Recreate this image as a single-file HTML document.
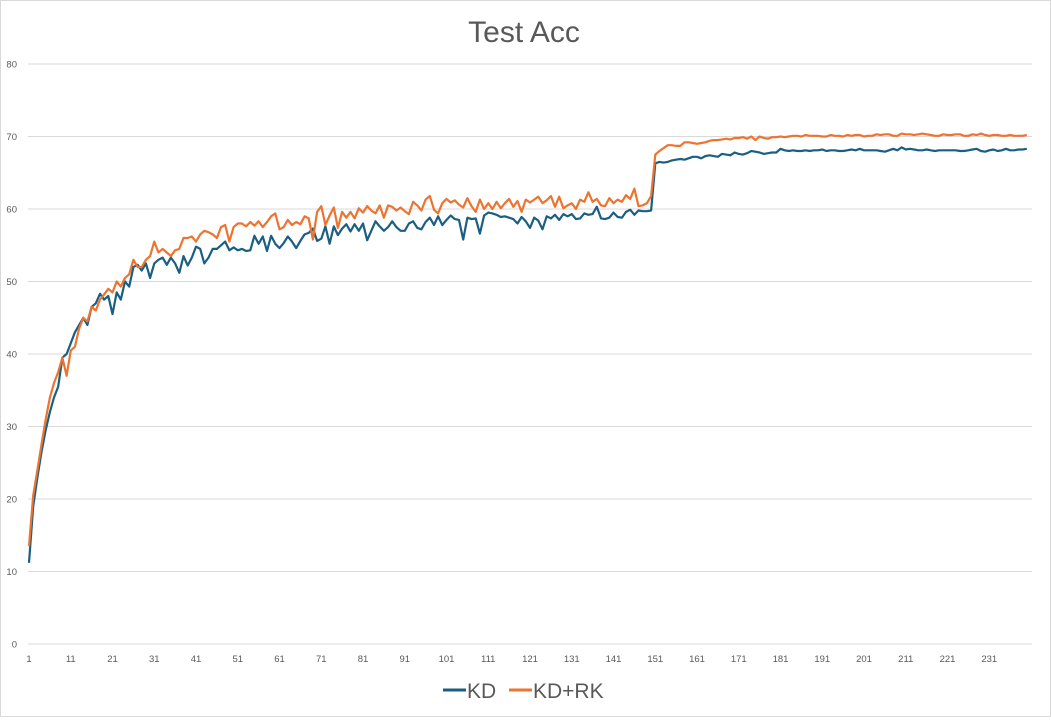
<!DOCTYPE html>
<html><head><meta charset="utf-8"><style>
body{margin:0;background:#fff;font-family:"Liberation Sans",sans-serif}
#wrap{position:relative;width:1051px;height:717px}
</style></head><body>
<div id="wrap">
<svg id="chart" width="1051" height="717" xmlns="http://www.w3.org/2000/svg">
<rect x="0.5" y="0.5" width="1050" height="716" fill="#fff" stroke="#d9d9d9"/>
<text x="524" y="42" text-anchor="middle" font-family="Liberation Sans, sans-serif" font-size="30" fill="#595959">Test Acc</text>
<g id="grid"></g><g id="ylab"></g><g id="xlab"></g><g id="series"></g>
<g>
<line x1="443" y1="690" x2="466" y2="690" stroke="#1a5f82" stroke-width="3"/>
<text x="467" y="698" font-size="21" fill="#595959">KD</text>
<line x1="509" y1="690" x2="532" y2="690" stroke="#ed7430" stroke-width="3"/>
<text x="533" y="698" font-size="21" fill="#595959">KD+RK</text>
</g>
</svg></div>
<script>
const yTicks=[0,10,20,30,40,50,60,70,80];
const xTickLabels=[1,11,21,31,41,51,61,71,81,91,101,111,121,131,141,151,161,171,181,191,201,211,221,231];
const kd=[11.2,19,23,26.5,29.5,32,34,35.5,39.5,40,
41.5,43,44,45,44,46.5,47,48.3,47.5,48,45.5,
48.5,47.5,50,49.3,52,52.3,51.5,52.5,50.5,52.5,53,
53.3,52.3,53.3,52.5,51.2,53.5,52.2,53.3,54.8,54.5,
52.5,53.3,54.5,54.5,55,55.5,54.3,54.7,54.3,54.5,
54.2,54.3,56.3,55.2,56.2,54.2,56.3,55.2,54.6,55.3,
56.2,55.5,54.6,55.6,56.5,56.7,57.3,55.6,55.9,57.6,
55.2,57.6,56.4,57.3,57.9,56.9,57.9,57,58,55.7,
57,58.3,57.6,57,57.5,58.3,57.5,57,57,58,
58.3,57.4,57.2,58.2,58.8,57.8,59,57.8,58.5,59.1,
58.6,58.5,55.8,58.8,58.6,58.7,56.6,59.1,
59.5,59.4,59.2,58.9,59,58.8,58.6,58,58.9,58.3,
57.4,58.8,58.4,57.2,59,58.7,59.2,58.5,59.3,59,
59.3,58.6,58.7,59.4,59.2,59.3,60.3,58.7,58.6,58.8,
59.5,58.9,58.8,59.6,59.9,59.2,59.8,59.7,59.7,59.8,
66.3,66.5,66.4,66.5,66.7,66.8,66.9,66.8,67.0,67.2,
67.2,67.0,67.3,67.4,67.3,67.2,67.6,67.5,67.4,67.8,
67.6,67.5,67.7,68.0,67.9,67.8,67.6,67.7,67.8,67.8,
68.3,68.1,68.0,68.1,68.0,68.0,68.1,68.0,68.1,68.1,
68.2,68.0,68.1,68.1,68.0,68.0,68.1,68.2,68.1,68.3,
68.1,68.1,68.1,68.1,68.0,67.9,68.1,68.3,68.1,68.5,
68.2,68.3,68.2,68.1,68.1,68.2,68.1,68.0,68.1,68.1,
68.1,68.1,68.1,68.0,68.0,68.1,68.2,68.3,68.0,67.9,
68.1,68.2,68.0,68.1,68.3,68.1,68.1,68.2,68.2,68.3];
const kdrk=[13.5,20.5,24,27.5,31,34,36,37.5,39.5,37,40.5,
41,43.5,45,44.5,46.5,46,47.5,48.2,49,48.5,50,
49.3,50.5,51,53,52,52,53,53.5,55.5,54,
54.5,54,53.5,54.3,54.5,56,56,56.2,55.5,56.5,
57,56.8,56.5,56,57.5,57.8,55.5,57.5,58,58,
57.6,58.2,57.7,58.3,57.5,58.2,59,59.4,57.2,57.5,
58.5,57.8,58.2,57.9,59,58.7,55.8,59.6,60.4,57.8,
59.1,60.2,57.4,59.6,58.8,59.6,58.7,60.1,59.5,60.4,
59.8,59.4,60.5,58.8,60.5,60.3,59.8,60.2,59.7,59.3,
61,60.5,59.8,61.3,61.8,59.9,59.4,60.8,61.4,60.9,
61.2,60.6,60.2,61.5,60.4,59.6,61.3,60,
60.8,60,61,60.1,60.8,61.4,60.3,61.1,59.6,61.3,
60.9,61.3,61.7,60.8,61.2,61.8,60.3,61.7,60.1,60.5,
60.8,60,61.3,61,62.3,61,61.4,60.5,60.4,61.5,
60.8,61.3,61,61.9,61.4,62.8,60.4,60.5,60.8,61.8,
67.5,68.0,68.4,68.8,68.8,68.7,68.7,69.2,69.2,69.1,
69.0,69.1,69.2,69.4,69.5,69.5,69.6,69.7,69.6,69.8,
69.8,69.9,69.7,70.0,69.5,70.0,69.8,69.7,69.9,69.9,
70.0,69.9,70.0,70.1,70.1,70.0,70.2,70.1,70.1,70.1,
70.0,70.0,70.2,70.1,70.1,70.0,70.2,70.1,70.2,70.2,
70.0,70.1,70.1,70.3,70.2,70.3,70.3,70.1,70.1,70.4,
70.3,70.3,70.2,70.3,70.4,70.3,70.2,70.1,70.1,70.3,
70.2,70.2,70.3,70.3,70.1,70.1,70.3,70.2,70.4,70.2,
70.1,70.2,70.2,70.1,70.1,70.2,70.1,70.1,70.1,70.2];
const NS="http://www.w3.org/2000/svg";
const X0=29,DX=4.175,Y0=644,YS=7.25;
function xs(i){return X0+(i-1)*DX;}
function ys(v){return Y0-v*YS;}
function mk(t,a,p){const e=document.createElementNS(NS,t);for(const k in a)e.setAttribute(k,a[k]);p.appendChild(e);return e;}
const grid=document.getElementById('grid'),yl=document.getElementById('ylab'),xl=document.getElementById('xlab'),sg=document.getElementById('series');
yTicks.forEach(v=>{
 const l=mk('line',{x1:28,x2:1032,y1:ys(v),y2:ys(v),stroke:'#d9d9d9','stroke-width':1},grid);
 
 
 const t=mk('text',{x:17,y:ys(v)+3.5,'text-anchor':'end','font-size':9.5,fill:'#595959'},yl);
 t.textContent=v;
 
 
});
xTickLabels.forEach(n=>{
 const t=mk('text',{x:xs(n),y:662,'text-anchor':'middle','font-size':9.5,fill:'#595959'},xl);
 t.textContent=n;
 
 
});
function line(data,color,name){
 const p=mk('polyline',{points:data.map((v,i)=>xs(i+1).toFixed(1)+','+ys(v).toFixed(1)).join(' '),fill:'none',stroke:color,'stroke-width':2.2,'stroke-linejoin':'round'},sg);
 
 
}
line(kd,'#1a5f82','series-kd');
line(kdrk,'#ed7430','series-kd-rk');
</script>
</body></html>
